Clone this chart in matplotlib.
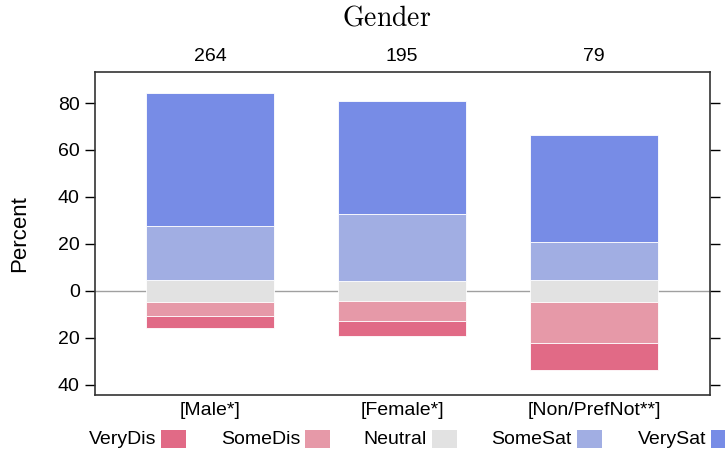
import matplotlib.pyplot as plt
from matplotlib.patches import Rectangle

plt.rcParams['font.family'] = ['Liberation Sans', 'DejaVu Sans']
plt.rcParams['mathtext.fontset'] = 'cm'

groups = ['[Male*]', '[Female*]', '[Non/PrefNot**]']
counts = [264, 195, 79]
levels = ['VeryDis', 'SomeDis', 'Neutral', 'SomeSat', 'VerySat']
colors = ['#E16A86', '#E699A8', '#E2E2E2', '#A1AEE3', '#778CE6']

# percent of each group per response level
very_dis = [5.1, 6.2, 11.6]
some_dis = [6.0, 8.6, 17.6]
neutral = [9.6, 8.7, 9.2]
some_sat = [22.7, 28.6, 16.3]
very_sat = [56.6, 47.9, 45.3]

fig = plt.figure(figsize=(7.25, 4.5), dpi=100)
ax = fig.add_axes([95 / 725, 55 / 450, 615 / 725, 323 / 450])

x = [1, 2, 3]
w = 0.667
half = [n / 2 for n in neutral]
kw = dict(width=w, edgecolor='white', linewidth=0.6, zorder=3)

# neutral straddles zero
ax.bar(x, neutral, bottom=[-h for h in half], color=colors[2], **kw)
# negative side
ax.bar(x, [-s for s in some_dis], bottom=[-h for h in half], color=colors[1], **kw)
ax.bar(x, [-v for v in very_dis], bottom=[-h - s for h, s in zip(half, some_dis)],
       color=colors[0], **kw)
# positive side
ax.bar(x, some_sat, bottom=half, color=colors[3], **kw)
ax.bar(x, very_sat, bottom=[h + s for h, s in zip(half, some_sat)], color=colors[4], **kw)

ax.axhline(0, color='#A0A0A0', linewidth=1, zorder=2)

ax.set_xlim(0.401, 3.604)
ax.set_ylim(-44.3, 93.2)
yt = [-40, -20, 0, 20, 40, 60, 80]
ax.set_yticks(yt)
ax.set_yticklabels([str(abs(t)) for t in yt], fontsize=14)
ax.tick_params(axis='y', right=True, direction='out', length=7, width=1, pad=4)
ax.set_xticks(x)
ax.set_xticklabels(groups, fontsize=14)
ax.tick_params(axis='x', length=0, pad=5)
ax.set_ylabel('Percent', fontsize=16, labelpad=20)

top = ax.secondary_xaxis('top')
top.set_xticks(x)
top.set_xticklabels([str(c) for c in counts], fontsize=14)
top.tick_params(length=0, pad=5)
top.spines['top'].set_visible(False)

for sp in ax.spines.values():
    sp.set_linewidth(1.2)
    sp.set_color('#333333')

fig.text(387 / 725, 1 - 19 / 450, r'$\mathrm{Gender}$', ha='center', va='center', fontsize=20)

# legend across bottom
box_left = [161, 305, 432, 577, 711]
for lab, col, bl in zip(levels, colors, box_left):
    fig.text((bl - 5) / 725, 1 - 439 / 450, lab, ha='right', va='center', fontsize=14)
    fig.patches.append(Rectangle((bl / 725, 1 - 448 / 450), 25 / 725, 18 / 450,
                                 transform=fig.transFigure, facecolor=col,
                                 edgecolor='none'))

fig.savefig('out.png', dpi=100)
